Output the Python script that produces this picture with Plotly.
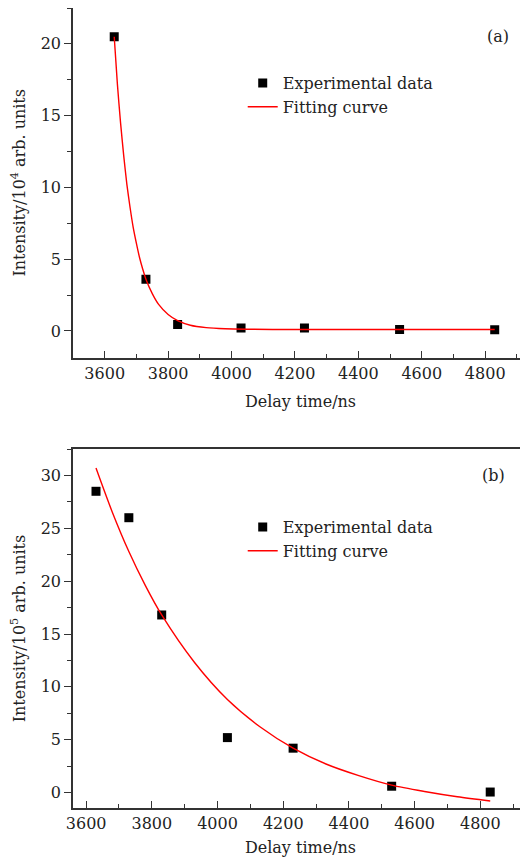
import plotly.graph_objects as go

# ---- data ----
delay_a = [3630, 3730, 3830, 4030, 4230, 4530, 4830]
intensity_a = [20.5, 3.6, 0.45, 0.2, 0.2, 0.1, 0.08]
fit_a_x = [3630, 3640, 3650, 3660, 3670, 3680, 3690, 3700, 3710, 3720, 3730,
           3750, 3770, 3800, 3830, 3870, 3920, 3980, 4050, 4200, 4500, 4830]
fit_a_y = [20.5, 17.2, 14.5, 12.2, 10.2, 8.6, 7.2, 6.1, 5.1, 4.3, 3.6,
           2.6, 1.85, 1.15, 0.72, 0.40, 0.23, 0.15, 0.12, 0.10, 0.10, 0.10]

delay_b = [3630, 3730, 3830, 4030, 4230, 4530, 4830]
intensity_b = [28.5, 26.0, 16.8, 5.2, 4.2, 0.6, 0.05]
fit_b_x = [3630, 3680, 3730, 3780, 3830, 3930, 4030, 4130, 4230, 4330, 4430,
           4530, 4630, 4730, 4830]
fit_b_y = [30.7, 26.5, 22.8, 19.6, 16.8, 12.3, 8.8, 6.2, 4.2, 2.7, 1.6,
           0.7, 0.1, -0.4, -0.8]

xticks = [3600, 3800, 4000, 4200, 4400, 4600, 4800]
yticks_a = [0, 5, 10, 15, 20]
yticks_b = [0, 5, 10, 15, 20, 25, 30]

FONT = "DejaVu Serif"
AXC = "#333333"
TXT = "#222222"

fig = go.Figure()

fig.add_trace(go.Scatter(x=delay_a, y=intensity_a, mode="markers", name="Experimental data",
                         marker=dict(symbol="square", size=9, color="black"),
                         xaxis="x", yaxis="y", legend="legend"))
fig.add_trace(go.Scatter(x=fit_a_x, y=fit_a_y, mode="lines", name="Fitting curve",
                         line=dict(color="red", width=1.4, shape="spline", smoothing=0.6),
                         xaxis="x", yaxis="y", legend="legend"))
fig.add_trace(go.Scatter(x=delay_b, y=intensity_b, mode="markers", name="Experimental data",
                         marker=dict(symbol="square", size=9, color="black"),
                         xaxis="x2", yaxis="y2", legend="legend2"))
fig.add_trace(go.Scatter(x=fit_b_x, y=fit_b_y, mode="lines", name="Fitting curve",
                         line=dict(color="red", width=1.4, shape="spline", smoothing=0.8),
                         xaxis="x2", yaxis="y2", legend="legend2"))

def xax(rng, anchor, standoff):
    return dict(range=rng, tickvals=xticks, ticks="inside", ticklen=7, tickwidth=1.3,
                tickcolor=AXC, showline=True, linecolor=AXC, linewidth=1.6, mirror=True,
                showgrid=False, zeroline=False, anchor=anchor, automargin=False,
                minor=dict(dtick=100, tick0=3500, ticks="inside", ticklen=4, tickcolor=AXC, tickwidth=1.2),
                title=dict(text="Delay time/ns", font=dict(family=FONT, size=16, color=TXT), standoff=standoff),
                tickfont=dict(family=FONT, size=16, color=TXT))

def yax(rng, tv, domain, anchor, title):
    return dict(range=rng, tickvals=tv, domain=domain, anchor=anchor, ticks="outside", ticklen=7,
                tickwidth=1.3, tickcolor=AXC, showline=True, linecolor=AXC, linewidth=1.6,
                mirror=False, showgrid=False, zeroline=False, automargin=False,
                minor=dict(dtick=2.5, tick0=0, ticks="outside", ticklen=4, tickcolor=AXC, tickwidth=1.2),
                title=dict(text=title, font=dict(family=FONT, size=16, color=TXT), standoff=15),
                tickfont=dict(family=FONT, size=16, color=TXT))

fig.update_layout(
    template="none",
    width=520, height=849,
    margin=dict(l=65, r=0, t=0, b=49, autoexpand=False),
    paper_bgcolor="white", plot_bgcolor="white",
    showlegend=True,
    xaxis=xax([3500, 4935], "y", 14),
    yaxis=yax([-1.85, 22.5], yticks_a, [0.5631, 1.0], "x", "Intensity/10<sup>4</sup> arb. units"),
    xaxis2=xax([3560, 4945], "y2", 16),
    yaxis2=yax([-1.46, 32.5], yticks_b, [0.0, 0.44875], "x2", "Intensity/10<sup>5</sup> arb. units"),
    legend=dict(x=0.373, y=0.9275, xanchor="left", yanchor="top", bgcolor="rgba(0,0,0,0)",
                font=dict(family=FONT, size=16, color=TXT), tracegroupgap=0),
    legend2=dict(x=0.373, y=0.3725, xanchor="left", yanchor="top", bgcolor="rgba(0,0,0,0)",
                 font=dict(family=FONT, size=16, color=TXT), tracegroupgap=0),
    annotations=[
        dict(text="(a)", x=4840, y=20.5, xref="x", yref="y", showarrow=False,
             font=dict(family=FONT, size=16, color=TXT)),
        dict(text="(b)", x=4840, y=30.0, xref="x2", yref="y2", showarrow=False,
             font=dict(family=FONT, size=16, color=TXT)),
    ],
)

fig.write_html("out.html")
